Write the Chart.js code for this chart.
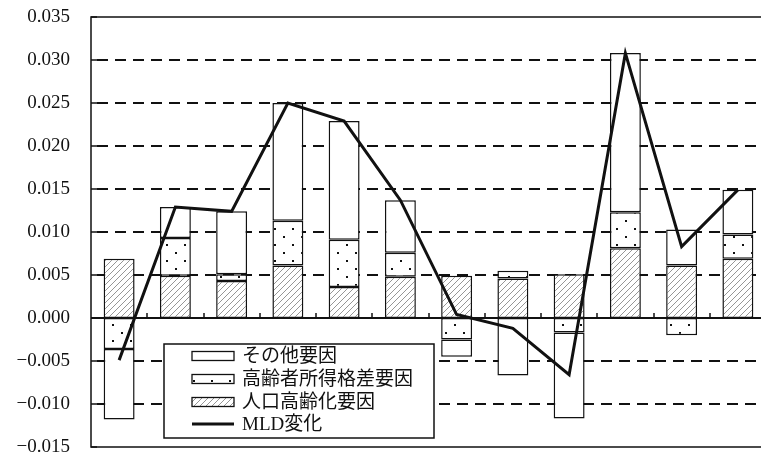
<!DOCTYPE html>
<html>
<head>
<meta charset="utf-8">
<script src="https://cdn.jsdelivr.net/npm/chart.js@4/dist/chart.umd.min.js"></script>
<style>
  body { margin:0; background:#fff; overflow:hidden; }
  canvas { display:block; }
</style>
</head>
<body>
<canvas id="mldChart" width="766" height="456"></canvas>
<script>
// ---- datos ----
const categorias = ['1','2','3','4','5','6','7','8','9','10','11','12'];
const envejecimiento = [0.0069, 0.0049, 0.0043, 0.0061, 0.0036, 0.0048, 0.0049, 0.0046, 0.0051, 0.0081, 0.0061, 0.0069];
const brechaMayores  = [-0.0036, 0.0044, 0.0008, 0.0052, 0.0055, 0.0028, -0.0025, 0.0009, -0.0017, 0.0042, -0.0020, 0.0028];
const otros          = [-0.0082, 0.0036, 0.0073, 0.0137, 0.0138, 0.0061, -0.0020, -0.0067, -0.0100, 0.0185, 0.0042, 0.0052];
const mld            = [-0.0049, 0.0129, 0.0124, 0.0250, 0.0229, 0.0137, 0.0004, -0.0012, -0.0066, 0.0308, 0.0083, 0.0149];
const ticksY = { min: -0.015, max: 0.035, step: 0.005 };
const leyenda = ['その他要因', '高齢者所得格差要因', '人口高齢化要因', 'MLD変化'];

// ---- patrones ----
function patronRayado() {
  const c = document.createElement('canvas');
  c.width = 6; c.height = 6;
  const g = c.getContext('2d');
  g.fillStyle = '#fff'; g.fillRect(0, 0, 6, 6);
  g.strokeStyle = '#8a8a8a'; g.lineWidth = 0.9;
  g.beginPath(); g.moveTo(-1, 7); g.lineTo(7, -1); g.stroke();
  return g.createPattern(c, 'repeat');
}
function patronPuntos() {
  const c = document.createElement('canvas');
  c.width = 18; c.height = 16;
  const g = c.getContext('2d');
  g.fillStyle = '#fff'; g.fillRect(0, 0, 18, 16);
  g.fillStyle = '#111';
  g.fillRect(4, 4, 2, 2);
  g.fillRect(13, 12, 2, 2);
  return g.createPattern(c, 'repeat');
}
const rayado = patronRayado();
const puntos = patronPuntos();

// ---- plugin: marco, rejilla discontinua, eje cero ----
const marcoPlugin = {
  id: 'marco',
  beforeDatasetsDraw(chart) {
    const { ctx, chartArea: a, scales: { x, y } } = chart;
    ctx.save();
    ctx.strokeStyle = '#111';
    ctx.lineWidth = 2;
    ctx.setLineDash([11, 7]);
    for (let v = ticksY.min + ticksY.step; v < ticksY.max - 1e-9; v += ticksY.step) {
      if (Math.abs(v) < 1e-9) continue;
      const py = Math.round(y.getPixelForValue(v));
      ctx.beginPath(); ctx.moveTo(a.left + 6, py); ctx.lineTo(a.right, py); ctx.stroke();
    }
    ctx.setLineDash([]);
    ctx.restore();
  },
  afterDatasetsDraw(chart) {
    const { ctx, chartArea: a, scales: { x, y } } = chart;
    ctx.save();
    ctx.strokeStyle = '#111';
    ctx.lineWidth = 1.5;
    // marco
    ctx.beginPath();
    ctx.moveTo(a.right, a.top); ctx.lineTo(a.left, a.top);
    ctx.lineTo(a.left, a.bottom); ctx.lineTo(a.right, a.bottom);
    ctx.stroke();
    // marcas eje y
    for (let v = ticksY.min; v <= ticksY.max + 1e-9; v += ticksY.step) {
      const py = Math.round(y.getPixelForValue(v));
      ctx.beginPath(); ctx.moveTo(a.left, py); ctx.lineTo(a.left + 6, py); ctx.stroke();
    }
    // linea cero
    const y0 = Math.round(y.getPixelForValue(0));
    ctx.lineWidth = 2;
    ctx.beginPath(); ctx.moveTo(a.left, y0); ctx.lineTo(a.right, y0); ctx.stroke();
    ctx.lineWidth = 1.5;
    for (let i = 1; i < categorias.length; i++) {
      const px = Math.round((x.getPixelForValue(i - 1) + x.getPixelForValue(i)) / 2);
      ctx.beginPath(); ctx.moveTo(px, y0); ctx.lineTo(px, y0 - 5); ctx.stroke();
    }
    ctx.restore();
  },
  afterDraw(chart) {
    // leyenda dentro del área
    const ctx = chart.ctx;
    const box = { x: 164, y: 344, w: 270, h: 94 };
    ctx.save();
    ctx.fillStyle = '#fff';
    ctx.fillRect(box.x, box.y, box.w, box.h);
    ctx.strokeStyle = '#111'; ctx.lineWidth = 1.5;
    ctx.strokeRect(box.x, box.y, box.w, box.h);
    const filas = [356, 379, 402, 424];
    const fills = ['#fff', puntos, rayado, null];
    ctx.font = '19px "Liberation Serif", "Noto Sans CJK JP"';
    ctx.textBaseline = 'middle';
    filas.forEach((fy, i) => {
      if (fills[i]) {
        ctx.fillStyle = fills[i];
        ctx.fillRect(192, fy - 4.5, 42, 9);
        ctx.lineWidth = 1.3; ctx.strokeStyle = '#111';
        ctx.strokeRect(192, fy - 4.5, 42, 9);
      } else {
        ctx.lineWidth = 3; ctx.strokeStyle = '#111';
        ctx.beginPath(); ctx.moveTo(192, fy); ctx.lineTo(234, fy); ctx.stroke();
      }
      ctx.fillStyle = '#111';
      ctx.fillText(leyenda[i], 242, fy + 1);
    });
    ctx.restore();
  }
};

const comunBarra = { borderColor: '#111', borderWidth: 1.5, borderSkipped: false, barPercentage: 0.55, categoryPercentage: 1.0 };

new Chart(document.getElementById('mldChart'), {
  type: 'bar',
  data: {
    labels: categorias,
    datasets: [
      { type: 'line', label: leyenda[3], data: mld, borderColor: '#111', borderWidth: 3, pointRadius: 0, tension: 0, stack: 'linea', fill: false },
      { label: leyenda[2], data: envejecimiento, backgroundColor: rayado, stack: 'a', ...comunBarra },
      { label: leyenda[1], data: brechaMayores, backgroundColor: puntos, stack: 'a', ...comunBarra },
      { label: leyenda[0], data: otros, backgroundColor: '#fff', stack: 'a', ...comunBarra }
    ]
  },
  options: {
    responsive: false,
    animation: false,
    layout: { padding: { top: 17, bottom: 9, left: 0, right: 0 } },
    plugins: { legend: { display: false }, tooltip: { enabled: false } },
    scales: {
      x: { display: false, stacked: true },
      y: {
        stacked: true,
        min: ticksY.min, max: ticksY.max,
        grid: { display: false, drawTicks: false },
        border: { display: false },
        ticks: {
          stepSize: ticksY.step,
          padding: 21,
          color: '#111',
          font: { family: '"Liberation Serif", serif', size: 19 },
          callback: v => (v < -1e-9 ? '\u2212' : '') + Math.abs(v).toFixed(3)
        },
        afterFit(scale) { scale.width = 91; scale.paddingTop = 0; scale.paddingBottom = 0; }
      }
    }
  },
  plugins: [marcoPlugin]
});
</script>
</body>
</html>
